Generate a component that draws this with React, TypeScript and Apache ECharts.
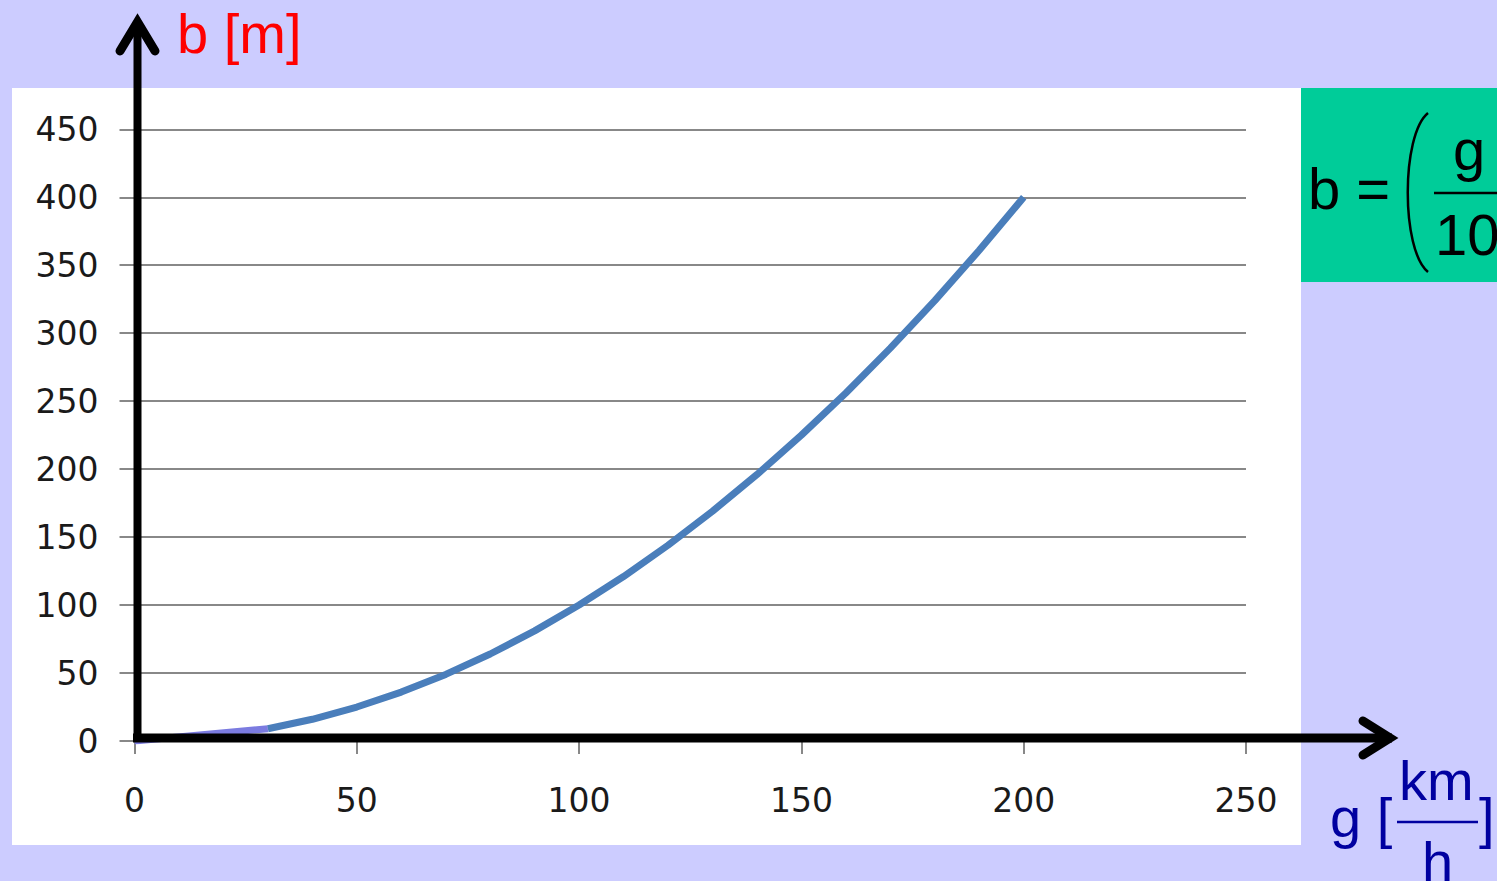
import React, { useEffect, useRef } from "react";
import * as echarts from "echarts";

const speedsKmh = [30, 40, 50, 60, 70, 80, 90, 100, 110, 120, 130, 140, 150, 160, 170, 180, 190, 200];
const brakeDistM = [9, 16, 25, 36, 49, 64, 81, 100, 121, 144, 169, 196, 225, 256, 289, 324, 361, 400];
const startSpeeds = [0, 30];
const startDist = [0, 9];
const xTicks = [0, 50, 100, 150, 200, 250];
const yTicks = [0, 50, 100, 150, 200, 250, 300, 350, 400, 450];

export default function App() {
  const ref = useRef<HTMLDivElement>(null);
  useEffect(() => {
    if (!ref.current) return;
    const chart = echarts.init(ref.current, null, { renderer: "svg" });
    const labelFont = "'DejaVu Sans', Verdana, sans-serif";
    const arial = "'Liberation Sans', Arial, sans-serif";
    chart.setOption({
      animation: false,
      backgroundColor: "#CCCCFF",
      grid: { left: 134.5, right: 251, top: 129.3, bottom: 140 },
      xAxis: {
        type: "value",
        min: xTicks[0],
        max: xTicks[xTicks.length - 1],
        interval: 50,
        axisLine: { show: false },
        axisTick: { show: true, length: 13, lineStyle: { color: "#888", width: 2 } },
        splitLine: { show: false },
        axisLabel: { fontSize: 33, color: "#1a1a1a", fontFamily: labelFont, margin: 43 },
      },
      yAxis: {
        type: "value",
        min: yTicks[0],
        max: yTicks[yTicks.length - 1],
        interval: 50,
        axisLine: { show: false },
        axisTick: { show: true, length: 15, lineStyle: { color: "#888", width: 2 } },
        splitLine: { show: true, lineStyle: { color: "#888", width: 2 } },
        axisLabel: { fontSize: 33, color: "#1a1a1a", fontFamily: labelFont, margin: 36 },
      },
      series: [
        {
          type: "line",
          data: startSpeeds.map((g, i) => [g, startDist[i]]),
          showSymbol: false,
          lineStyle: { color: "#7b7be0", width: 7 },
          z: 3,
        },
        {
          type: "line",
          data: speedsKmh.map((g, i) => [g, brakeDistM[i]]),
          showSymbol: false,
          lineStyle: { color: "#4a7ebb", width: 7 },
          z: 4,
        },
      ],
      graphic: [
        { type: "rect", z: -10, shape: { x: 12, y: 88, width: 1289, height: 757 }, style: { fill: "#ffffff" } },
        { type: "rect", z: 50, shape: { x: 1301, y: 88, width: 196, height: 194 }, style: { fill: "#00CC99" } },
        // axes arrows
        { type: "line", z: 100, shape: { x1: 137.5, y1: 741, x2: 137.5, y2: 26 }, style: { stroke: "#000", lineWidth: 8 } },
        { type: "polyline", z: 100, shape: { points: [[120, 51], [137.5, 22], [155, 51]] }, style: { stroke: "#000", lineWidth: 9, lineCap: "round", lineJoin: "miter", miterLimit: 10, fill: null } },
        { type: "line", z: 100, shape: { x1: 133, y1: 738, x2: 1392, y2: 738 }, style: { stroke: "#000", lineWidth: 9 } },
        { type: "polyline", z: 100, shape: { points: [[1363, 721], [1390, 738], [1363, 755]] }, style: { stroke: "#000", lineWidth: 9, lineCap: "round", lineJoin: "miter", miterLimit: 10, fill: null } },
        // y title
        { type: "text", z: 100, x: 177, y: 33, style: { text: "b [m]", fill: "#ff0000", font: `56px ${arial}`, verticalAlign: "middle" } },
        // x title
        { type: "text", z: 100, x: 1330, y: 817, style: { text: "g [", fill: "#0000a0", font: `56px ${arial}`, verticalAlign: "middle" } },
        { type: "text", z: 100, x: 1399, y: 780, style: { text: "km", fill: "#0000a0", font: `56px ${arial}`, verticalAlign: "middle" } },
        { type: "line", z: 100, shape: { x1: 1397, y1: 822, x2: 1478, y2: 822 }, style: { stroke: "#0000a0", lineWidth: 2.5 } },
        { type: "text", z: 100, x: 1422, y: 861, style: { text: "h", fill: "#0000a0", font: `56px ${arial}`, verticalAlign: "middle" } },
        { type: "text", z: 100, x: 1479, y: 817, style: { text: "]", fill: "#0000a0", font: `56px ${arial}`, verticalAlign: "middle" } },
        // formula box
        { type: "text", z: 100, x: 1308, y: 188, style: { text: "b =", fill: "#000", font: `58px ${arial}`, verticalAlign: "middle" } },
        { type: "bezierCurve", z: 100, shape: { x1: 1428, y1: 113, cpx1: 1401, cpy1: 135, cpx2: 1401, cpy2: 250, x2: 1428, y2: 272 }, style: { stroke: "#000", lineWidth: 2.5, fill: null } },
        { type: "text", z: 100, x: 1453, y: 149, style: { text: "g", fill: "#000", font: `58px ${arial}`, verticalAlign: "middle" } },
        { type: "line", z: 100, shape: { x1: 1434, y1: 193, x2: 1500, y2: 193 }, style: { stroke: "#000", lineWidth: 2.5 } },
        { type: "text", z: 100, x: 1435, y: 234, style: { text: "10", fill: "#000", font: `58px ${arial}`, verticalAlign: "middle" } },
      ],
    });
    return () => chart.dispose();
  }, []);
  return <div ref={ref} style={{ position: "fixed", left: 0, top: 0, width: 1497, height: 881 }} />;
}
